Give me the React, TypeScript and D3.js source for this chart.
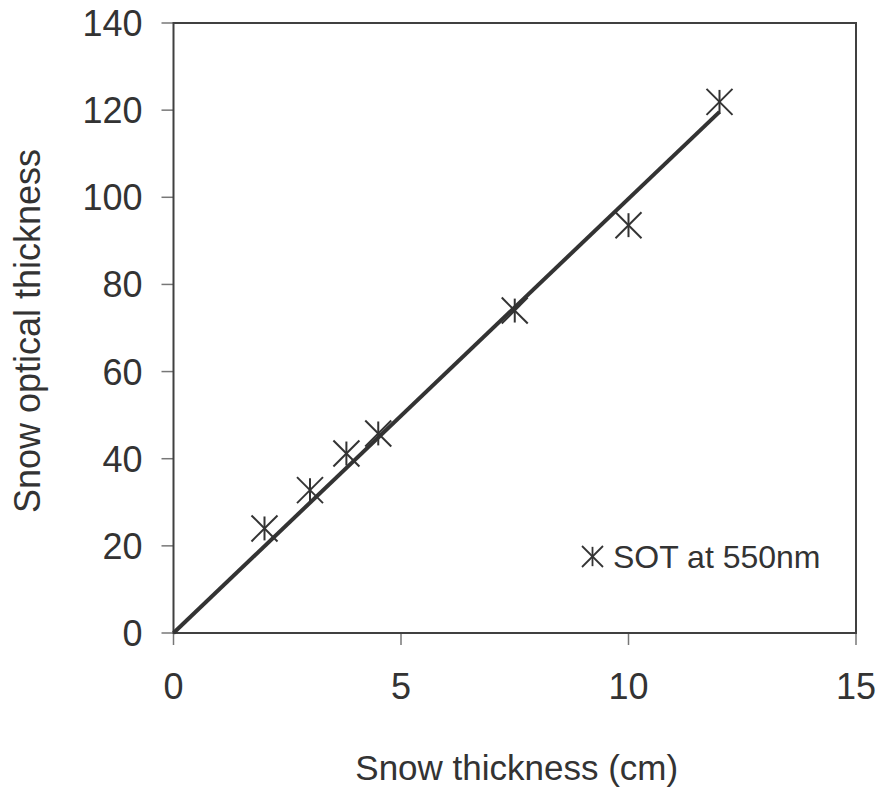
import React from "react";
import * as d3 from "d3";

// Measured snow thickness (cm) and snow optical thickness at 550 nm
const thicknessCm = [2, 3, 3.8, 4.5, 7.5, 10, 12];
const opticalThickness = [24, 32.8, 41.2, 45.8, 74, 93.6, 121.9];

// Linear fit through the origin
const fitX = [0, 12];
const fitY = [0, 119.6];

const xTicks = [0, 5, 10, 15];
const yTicks = [0, 20, 40, 60, 80, 100, 120, 140];

const W = 880;
const H = 788;
const left = 173.5;
const right = 856;
const top = 23;
const bottom = 633;

const FONT = "'Liberation Sans', Arial, Helvetica, sans-serif";
const INK = "#333333";

function asterisk(cx: number, cy: number, r: number, key: string | number, sw = 2) {
  const vr = r * 0.92;
  return (
    <g key={key} stroke={INK} strokeWidth={sw} fill="none">
      <line x1={cx - r} y1={cy - r} x2={cx + r} y2={cy + r} />
      <line x1={cx - r} y1={cy + r} x2={cx + r} y2={cy - r} />
      <line x1={cx} y1={cy - vr} x2={cx} y2={cy + vr} />
    </g>
  );
}

export default function App() {
  const x = d3.scaleLinear().domain([0, 15]).range([left, right]);
  const y = d3.scaleLinear().domain([0, 140]).range([bottom, top]);

  const fitLine = d3
    .line<number>()
    .x((_, i) => x(fitX[i]))
    .y((d) => y(d));

  return (
    <svg
      width={W}
      height={H}
      style={{ position: "absolute", left: 0, top: 0, background: "#fff" }}
      fontFamily={FONT}
    >
      <rect x={0} y={0} width={W} height={H} fill="#fff" />

      {/* y ticks and labels */}
      {yTicks.map((t) => (
        <g key={"y" + t}>
          <line x1={left - 12} x2={left} y1={y(t)} y2={y(t)} stroke="#777" strokeWidth={1.5} />
          <text
            x={left - 31}
            y={y(t)}
            dy="0.36em"
            textAnchor="end"
            fontSize={36}
            fill={INK}
          >
            {t}
          </text>
        </g>
      ))}

      {/* x ticks and labels */}
      {xTicks.map((t) => (
        <g key={"x" + t}>
          <line x1={x(t)} x2={x(t)} y1={bottom} y2={bottom + 12} stroke="#777" strokeWidth={1.5} />
          <text x={x(t)} y={699} textAnchor="middle" fontSize={36} fill={INK}>
            {t}
          </text>
        </g>
      ))}

      {/* plot frame */}
      <rect
        x={left}
        y={top}
        width={right - left}
        height={bottom - top}
        fill="none"
        stroke="#404040"
        strokeWidth={2}
      />

      {/* fitted line */}
      <path d={fitLine(fitY) || ""} stroke={INK} strokeWidth={4} fill="none" />

      {/* observations */}
      {thicknessCm.map((t, i) => asterisk(x(t), y(opticalThickness[i]), 13, i))}

      {/* legend */}
      {asterisk(592.5, 556.5, 10.5, "legend", 1.8)}
      <text x={613} y={568} fontSize={32} fill={INK}>
        SOT at 550nm
      </text>

      {/* axis titles */}
      <text x={(left + right) / 2 + 2} y={780} textAnchor="middle" fontSize={35} fill={INK}>
        Snow thickness (cm)
      </text>
      <text
        transform={`translate(40, 331) rotate(-90)`}
        textAnchor="middle"
        fontSize={36}
        fill={INK}
      >
        Snow optical thickness
      </text>
    </svg>
  );
}
